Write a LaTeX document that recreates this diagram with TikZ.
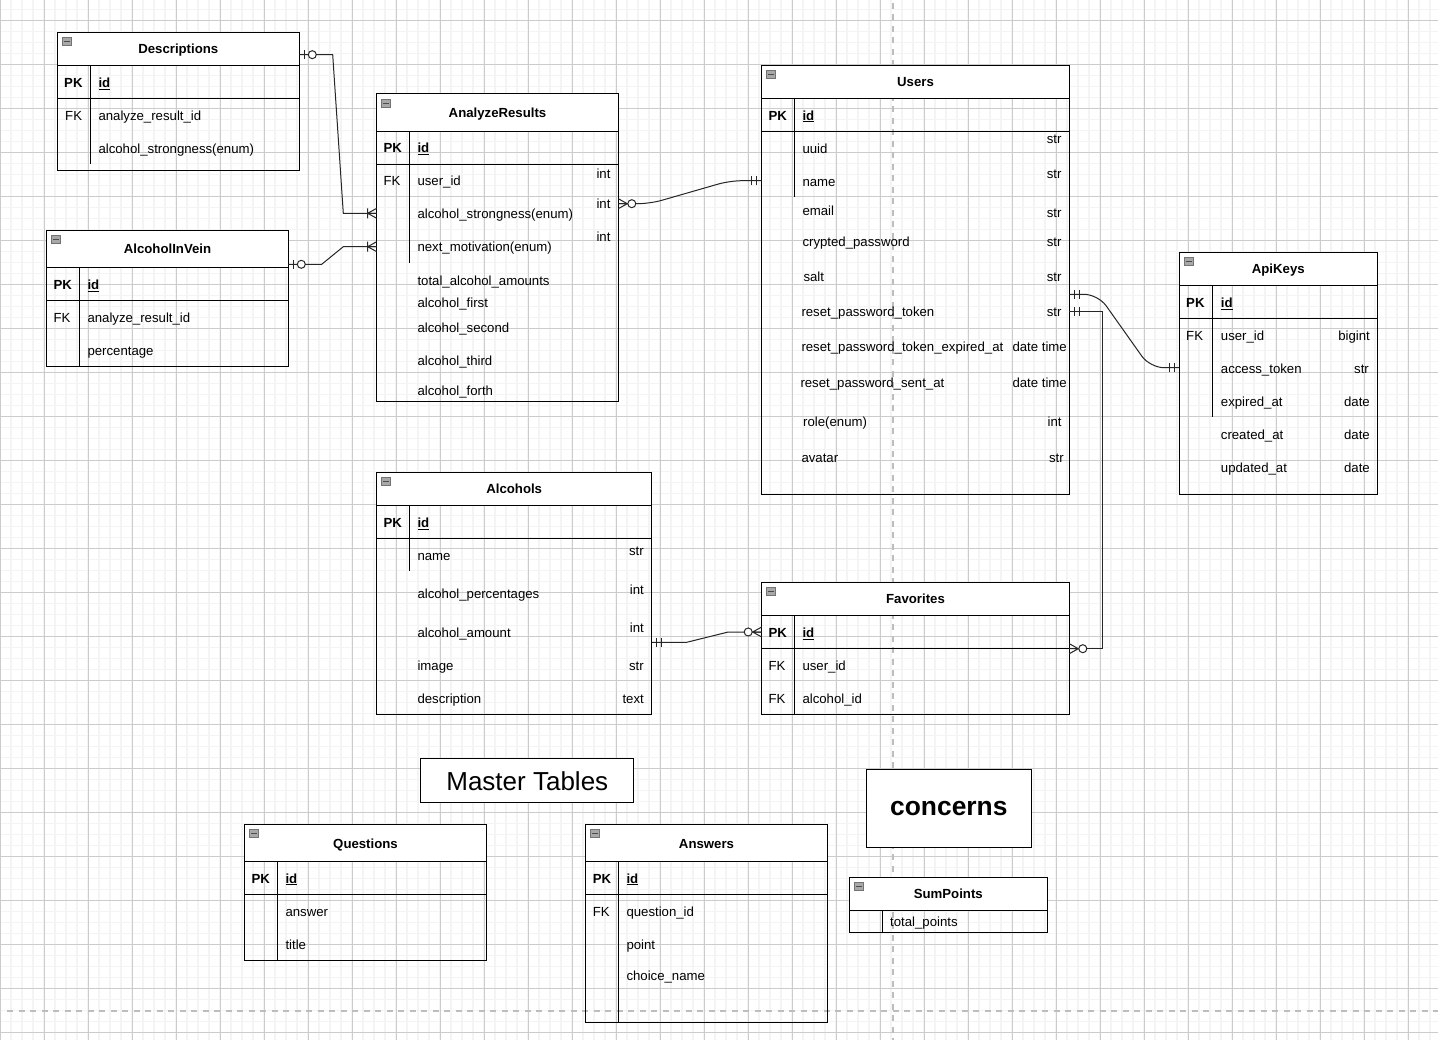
\documentclass[tikz,border=0pt]{standalone}
\usepackage{fontspec}
\setmainfont{Liberation Sans}
\definecolor{gmin}{HTML}{F4F4F4}
\definecolor{gmaj}{HTML}{CCCCCC}
\definecolor{gdash}{HTML}{BDBDBD}
\definecolor{icong}{HTML}{A8A8A8}
\newcommand\fs{\fontsize{13.2}{15}\selectfont}
\newcounter{nd}
\newcommand\TX[4][]{\stepcounter{nd}\edef\nn{t\arabic{nd}}\node[#1] (\nn) at (#2,#3) {#4};}
\newcommand\F[3]{\TX[fld]{#1}{#2}{#3}}
\newcommand\K[3]{\TX[fld,font=\fs\bfseries]{#1}{#2}{#3}}
\newcommand\T[3]{\TX[typ]{#1}{#2}{#3}}
% table: name, x1, y1, x2, y2, yheader, ypk, divider bottom, title
\newcommand\ERT[9]{%
  \fill[white] (#2,#3) rectangle (#4,#6);
  \node[tbl, minimum width={(#4-#2)*1pt}, minimum height={(#5-#3)*1pt}] (#1) at (#2,#3) {};
  \draw[tline] (#2,#6) -- (#4,#6);
  \draw[tline] (#2,#7) -- (#4,#7);
  \draw[tline] (#2+33,#6) -- (#2+33,#8);
  \draw[minusicon] (#2+5,#3+5) rectangle (#2+14,#3+13);
  \draw[black!70, line width=0.8pt] (#2+6.5,#3+9) -- (#2+12.5,#3+9);
  \node[ttl] (#1-title) at ({(#2+#4)/2},{(#3+#6)/2}) {#9};
}
\begin{document}
\begin{tikzpicture}[x=1pt,y=-1pt,
  fld/.style={anchor=base west, inner sep=0pt, yshift=-4.8pt, font=\fs},
  typ/.style={anchor=base east, inner sep=0pt, yshift=-4.8pt, font=\fs},
  ttl/.style={anchor=base, inner sep=0pt, yshift=-4.8pt, font=\fs\bfseries},
  tbl/.style={draw=black, line width=1pt, anchor=north west, inner sep=0pt, outer sep=0pt},
  tline/.style={draw=black, line width=1pt},
  minusicon/.style={draw=black!55, fill=icong, line width=0.6pt},
  conn/.style={draw=black!85, line width=1pt},
  mk/.style={draw=black!85, line width=1pt},
  mandone/.pic={\draw[mk] (5,-4.5)--(5,4.5) (10,-4.5)--(10,4.5);},
  zeroone/.pic={\draw[mk] (5,-4.5)--(5,4.5); \draw[mk,fill=white] (13,0) circle (4pt);},
  onemany/.pic={\draw[mk] (0,-5)--(9,0)--(0,5) (0,0)--(9,0) (9,-5)--(9,5);},
  zeromany/.pic={\draw[mk] (0,-5)--(9,0)--(0,5) (0,0)--(9,0); \draw[mk,fill=white] (13.5,0) circle (4pt);},
]
\useasboundingbox (0,0) rectangle (1438,1040);
\fill[white] (0,0) rectangle (1438,1040);
% grid
\foreach \i in {0,...,130} \draw[gmin, line width=1.5pt] (\i*11,0) -- (\i*11,1040);
\foreach \j in {0,...,93} \draw[gmin, line width=1.5pt] (0,9.3+\j*11) -- (1438,9.3+\j*11);
\foreach \i in {0,...,32} \draw[gmaj, line width=1pt] (\i*44,0) -- (\i*44,1040);
\foreach \j in {0,...,23} \draw[gmaj, line width=1pt] (0,20.3+\j*44) -- (1438,20.3+\j*44);
% dashed separators
\draw[gdash, line width=2pt, dash pattern=on 6pt off 5.5pt] (892.7,3) -- (892.7,1040);
\draw[gdash, line width=2pt, dash pattern=on 6pt off 5.5pt] (7,1011) -- (1438,1011);

% ---------- Descriptions
\ERT{desc}{57.3}{32.7}{299.3}{170.3}{65.3}{98.7}{164}{Descriptions}
\K{64}{82.7}{PK} \K{98.3}{82.7}{\underline{id}}
\F{65}{116}{FK} \F{98.3}{116}{analyze\_result\_id}
\F{98.3}{148.7}{alcohol\_strongness(enum)}

% ---------- AlcoholInVein
\ERT{aiv}{46.7}{230.7}{288.3}{366.7}{267.7}{300.7}{366.7}{AlcoholInVein}
\K{53.3}{285}{PK} \K{87.3}{285}{\underline{id}}
\F{53.3}{317.3}{FK} \F{87.3}{317.3}{analyze\_result\_id}
\F{87.3}{350.7}{percentage}

% ---------- AnalyzeResults
\ERT{ar}{376.7}{94}{618.3}{402}{131.3}{164.3}{263.3}{AnalyzeResults}
\K{383.3}{147.7}{PK} \K{417.3}{147.7}{\underline{id}}
\F{383.3}{180.7}{FK} \F{417.3}{180.7}{user\_id}
\F{417.3}{213.7}{alcohol\_strongness(enum)}
\F{417.3}{246.7}{next\_motivation(enum)}
\F{417.3}{280.7}{total\_alcohol\_amounts}
\F{417.3}{302.3}{alcohol\_first}
\F{417.3}{327.7}{alcohol\_second}
\F{417.3}{360.7}{alcohol\_third}
\F{417.3}{390.7}{alcohol\_forth}
\T{610.7}{173.7}{int} \T{610.7}{203.7}{int} \T{610.7}{236.3}{int}

% ---------- Users
\ERT{users}{761.7}{65.3}{1069.3}{494.3}{98.7}{131.3}{197.3}{Users}
\K{768.3}{115.3}{PK} \K{802.3}{115.3}{\underline{id}}
\F{802.3}{148.7}{uuid}
\F{802.3}{182}{name}
\F{802.3}{211}{email}
\F{802.3}{241.7}{crypted\_password}
\F{803.3}{276.7}{salt}
\F{801.3}{311.7}{reset\_password\_token}
\F{801.3}{346.7}{reset\_password\_token\_expired\_at}
\F{800.3}{382.7}{reset\_password\_sent\_at}
\F{803}{421.7}{role(enum)}
\F{801.3}{457.3}{avatar}
\T{1061.7}{139}{str} \T{1061.7}{174}{str} \T{1061.7}{212.7}{str}
\T{1061.7}{242}{str} \T{1061.7}{276.7}{str} \T{1061.7}{311.7}{str}
\T{1067}{346.7}{date time} \T{1067}{382.7}{date time}
\T{1061.7}{421.7}{int} \T{1064}{457.3}{str}

% ---------- ApiKeys
\ERT{api}{1179.3}{252.7}{1377.3}{494}{285.3}{318.7}{417.3}{ApiKeys}
\K{1186}{302.7}{PK} \K{1220.7}{302.7}{\underline{id}}
\F{1186}{336}{FK} \F{1220.7}{336}{user\_id}
\F{1220.7}{368.7}{access\_token}
\F{1220.7}{402}{expired\_at}
\F{1220.7}{434.7}{created\_at}
\F{1220.7}{468}{updated\_at}
\T{1370}{336}{bigint} \T{1369}{368.7}{str} \T{1370}{402}{date}
\T{1370}{434.7}{date} \T{1370}{468}{date}

% ---------- Alcohols
\ERT{alc}{376.7}{472.7}{651.7}{714.3}{505.3}{538.7}{571}{Alcohols}
\K{383.3}{522.7}{PK} \K{417.3}{522.7}{\underline{id}}
\F{417.3}{556}{name}
\F{417.3}{593.7}{alcohol\_percentages}
\F{417.3}{632.7}{alcohol\_amount}
\F{417.3}{665.7}{image}
\F{417.3}{698.7}{description}
\T{644}{550.7}{str} \T{644}{589.3}{int} \T{644}{627.7}{int}
\T{644}{665.7}{str} \T{644}{698.7}{text}

% ---------- Favorites
\ERT{fav}{761.7}{582.7}{1069.3}{714}{615.3}{648.7}{714}{Favorites}
\K{768.3}{632.7}{PK} \K{802.3}{632.7}{\underline{id}}
\F{768.3}{666}{FK} \F{802.3}{666}{user\_id}
\F{768.3}{698.3}{FK} \F{802.3}{698.3}{alcohol\_id}

% ---------- Questions
\ERT{q}{244.7}{824.7}{486.3}{960.7}{861.7}{894.7}{960.7}{Questions}
\K{251.3}{878.3}{PK} \K{285.3}{878.3}{\underline{id}}
\F{285.3}{911.7}{answer}
\F{285.3}{944.3}{title}

% ---------- Answers
\ERT{ans}{585.7}{824.7}{827.3}{1022.3}{861.7}{894.7}{1022.3}{Answers}
\K{592.7}{878.3}{PK} \K{626.3}{878.3}{\underline{id}}
\F{592.7}{911.7}{FK} \F{626.3}{911.7}{question\_id}
\F{626.3}{944.3}{point}
\F{626.3}{975.3}{choice\_name}

% ---------- SumPoints
\ERT{sp}{849.3}{877}{1047.3}{932}{910.3}{910.3}{932}{SumPoints}
\F{890}{921.7}{total\_points}

% ---------- label boxes
\node[draw=black, line width=1pt, fill=white, anchor=north west, inner sep=0pt,
  minimum width=213pt, minimum height=44pt, font=\fontsize{26}{30}\selectfont]
  (master) at (420.3,758.3) {Master Tables};
\node[draw=black, line width=1pt, fill=white, anchor=north west, inner sep=0pt,
  minimum width=165.3pt, minimum height=77.4pt, font=\bfseries\fontsize{26.4}{30}\selectfont]
  (concerns) at (865.7,769.3) {concerns};

% ---------- connectors
\coordinate (c1a) at (299.3,54.7);  \coordinate (c1b) at (376.7,213.3);
\coordinate (c2a) at (288.3,264.3); \coordinate (c2b) at (376.7,246.7);
\coordinate (c3a) at (618.3,203.7); \coordinate (c3b) at (761.7,180.7);
\coordinate (c4a) at (1069.3,294.3); \coordinate (c4b) at (1179.3,367.7);
\coordinate (c5a) at (1069.3,311.7); \coordinate (c5b) at (1069.3,648.7);
\coordinate (c6a) at (651.7,642.3); \coordinate (c6b) at (761.7,632);

\draw[conn] (c1a) -- (332.7,54.7) -- (343.3,213.3) -- (c1b);
\draw[conn] (c2a) -- (321.7,264.3) -- (343.3,246.7) -- (c2b);
\draw[conn, rounded corners=12pt] (c3a) -- (650,203.7) -- (730,180.7) -- (c3b);
\draw[conn, rounded corners=14pt] (c4a) -- (1098,294.3) -- (1150,367.7) -- (c4b);
\draw[conn] (c5a) -- (1102.3,311.7) -- (1102.3,648.7) -- (c5b);
\draw[conn] (c6a) -- (686.7,642.3) -- (728.3,632) -- (c6b);

\pic at (c1a) {zeroone};   \pic[rotate=180] at (c1b) {onemany};
\pic at (c2a) {zeroone};   \pic[rotate=180] at (c2b) {onemany};
\pic at (c3a) {zeromany};  \pic[rotate=180] at (c3b) {mandone};
\pic at (c4a) {mandone};   \pic[rotate=180] at (c4b) {mandone};
\pic at (c5a) {mandone};   \pic at (c5b) {zeromany};
\pic at (c6a) {mandone};   \pic[rotate=180] at (c6b) {zeromany};
\end{tikzpicture}
\end{document}
